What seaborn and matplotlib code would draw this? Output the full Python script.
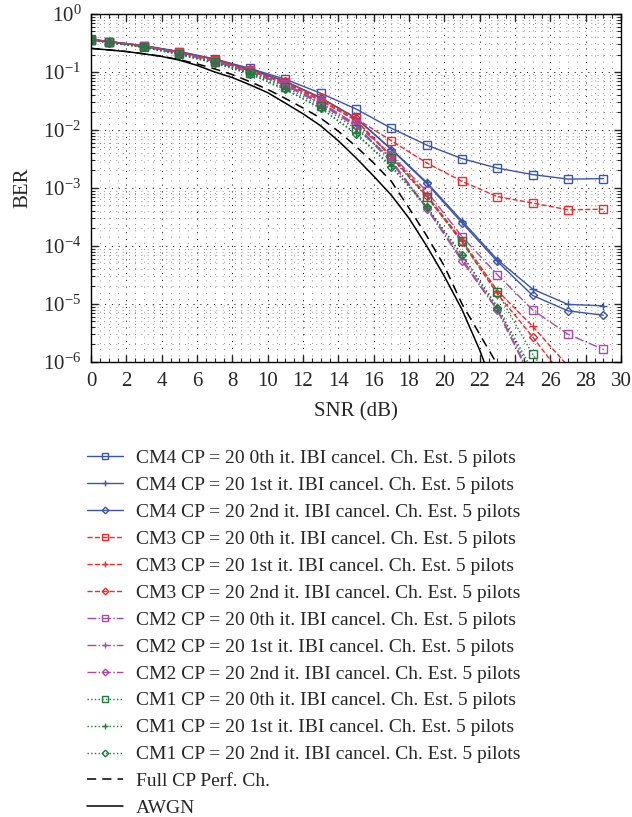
import numpy as np
import pandas as pd
import matplotlib
matplotlib.use("Agg")
import matplotlib.pyplot as plt
from matplotlib.ticker import MultipleLocator, LogLocator
import seaborn as sns

# SNR points of the marked curves (line starts at 0 dB, markers at odd dB)
snr = [0, 1, 3, 5, 7, 9, 11, 13, 15, 17, 19, 21, 23, 25, 27, 29]
# reference curves are smooth, one value per dB
snr_ref = list(range(0, 24))

cm4_0 = [0.365, 0.335, 0.285, 0.225, 0.168, 0.115, 0.075, 0.043, 0.023, 0.0107, 0.0055, 0.0032, 0.0022, 0.0017, 0.00142, 0.00145]
cm4_1 = [0.365, 0.335, 0.282, 0.222, 0.165, 0.111, 0.069, 0.036, 0.016, 0.0047, 0.00125, 2.7e-4, 5.8e-5, 1.8e-5, 9.8e-6, 9.3e-6]
cm4_2 = [0.365, 0.335, 0.282, 0.222, 0.165, 0.111, 0.069, 0.036, 0.016, 0.0046, 0.0012, 2.5e-4, 5.4e-5, 1.4e-5, 7.6e-6, 6.4e-6]
cm3_0 = [0.36, 0.335, 0.28, 0.22, 0.163, 0.108, 0.068, 0.035, 0.0158, 0.0065, 0.0027, 0.0013, 7.1e-4, 5.5e-4, 4.2e-4, 4.3e-4]
cm3_1 = [0.36, 0.333, 0.278, 0.217, 0.159, 0.105, 0.065, 0.033, 0.0148, 0.0036, 7.6e-4, 1.25e-4, 1.7e-5, 4.1e-6, 8.5e-7]
cm3_2 = [0.36, 0.333, 0.278, 0.217, 0.158, 0.104, 0.064, 0.032, 0.0145, 0.0034, 7.2e-4, 1.15e-4, 1.5e-5, 2.7e-6, 4.3e-7]
cm2_0 = [0.355, 0.33, 0.275, 0.213, 0.155, 0.102, 0.062, 0.030, 0.0125, 0.0037, 8.8e-4, 1.45e-4, 3.2e-5, 7.9e-6, 3.0e-6, 1.65e-6]
cm2_1 = [0.355, 0.33, 0.273, 0.21, 0.152, 0.1, 0.06, 0.029, 0.012, 0.003, 4.6e-4, 6e-5, 8e-6, 5e-7]
cm2_2 = [0.355, 0.33, 0.273, 0.21, 0.151, 0.099, 0.059, 0.028, 0.0115, 0.0028, 4.4e-4, 5.5e-5, 7.8e-6, 4.5e-7]
cm1_0 = [0.35, 0.325, 0.27, 0.205, 0.148, 0.097, 0.055, 0.026, 0.0105, 0.0033, 7e-4, 1.2e-4, 1.6e-5, 1.35e-6, 2e-7]
cm1_1 = [0.35, 0.32, 0.265, 0.2, 0.143, 0.093, 0.05, 0.024, 0.0088, 0.0024, 4.8e-4, 7e-5, 9e-6, 7e-7]
cm1_2 = [0.35, 0.32, 0.265, 0.2, 0.142, 0.092, 0.05, 0.0235, 0.0085, 0.0023, 4.7e-4, 7e-5, 8.5e-6, 6e-7]

full_cp = [0.255, 0.24, 0.225, 0.205, 0.187, 0.163, 0.138, 0.113, 0.09, 0.068, 0.05, 0.035,
           0.024, 0.016, 0.0095, 0.0052, 0.0027, 0.0013, 4.5e-4, 1.5e-4, 4.5e-5, 1e-5, 3e-6, 9e-7]
awgn = [0.255, 0.24, 0.225, 0.205, 0.185, 0.16, 0.13, 0.1, 0.08, 0.06, 0.044, 0.029,
        0.019, 0.0118, 0.0065, 0.0033, 0.0016, 7.5e-4, 3e-4, 1e-4, 3e-5, 8e-6, 1.6e-6, 2.5e-7]

labels = [
    "CM4 CP = 20 0th it. IBI cancel. Ch. Est. 5 pilots",
    "CM4 CP = 20 1st it. IBI cancel. Ch. Est. 5 pilots",
    "CM4 CP = 20 2nd it. IBI cancel. Ch. Est. 5 pilots",
    "CM3 CP = 20 0th it. IBI cancel. Ch. Est. 5 pilots",
    "CM3 CP = 20 1st it. IBI cancel. Ch. Est. 5 pilots",
    "CM3 CP = 20 2nd it. IBI cancel. Ch. Est. 5 pilots",
    "CM2 CP = 20 0th it. IBI cancel. Ch. Est. 5 pilots",
    "CM2 CP = 20 1st it. IBI cancel. Ch. Est. 5 pilots",
    "CM2 CP = 20 2nd it. IBI cancel. Ch. Est. 5 pilots",
    "CM1 CP = 20 0th it. IBI cancel. Ch. Est. 5 pilots",
    "CM1 CP = 20 1st it. IBI cancel. Ch. Est. 5 pilots",
    "CM1 CP = 20 2nd it. IBI cancel. Ch. Est. 5 pilots",
    "Full CP Perf. Ch.",
    "AWGN",
]

sns.set_style("ticks")
plt.rcParams["font.family"] = ["Liberation Serif", "DejaVu Serif"]
plt.rcParams["mathtext.fontset"] = "stix"
plt.rcParams["xtick.direction"] = "in"
plt.rcParams["ytick.direction"] = "in"

fig = plt.figure(figsize=(6.32, 8.17), dpi=100)
ax = fig.add_axes([0.144, 0.557, 0.8386, 0.4259])

blue, red, mag, green = "#3b55a8", "#ee2b2b", "#a94aa9", "#1f7a3c"
styles = [
    (cm4_0, blue, "-", "s", 5.5), (cm4_1, blue, "-", "+", 6), (cm4_2, blue, "-", "D", 4.5),
    (cm3_0, red, "--", "s", 5.5), (cm3_1, red, "--", "+", 6), (cm3_2, red, "--", "D", 4.5),
    (cm2_0, mag, "-.", "s", 5.5), (cm2_1, mag, "-.", "+", 6), (cm2_2, mag, "-.", "D", 4.5),
    (cm1_0, green, ":", "s", 5.5), (cm1_1, green, ":", "+", 6), (cm1_2, green, ":", "D", 4.5),
]

for (vals, col, ls, mk, ms), lab in zip(styles, labels[:12]):
    df = pd.DataFrame({"snr": snr[:len(vals)], "ber": vals})
    sns.lineplot(data=df, x="snr", y="ber", ax=ax, color=col, linestyle=ls,
                 linewidth=1.0, marker=mk, markersize=ms, markevery=slice(1, None),
                 markerfacecolor="none", markeredgecolor=col, markeredgewidth=1.0,
                 errorbar=None, label=lab)

sns.lineplot(x=snr_ref, y=full_cp, ax=ax, color="black", linestyle=(0, (6, 4)),
             linewidth=1.1, errorbar=None, label=labels[12])
sns.lineplot(x=snr_ref, y=awgn, ax=ax, color="black", linestyle="-",
             linewidth=1.1, errorbar=None, label=labels[13])

ax.set_yscale("log")
ax.set_xlim(0, 30)
ax.set_ylim(1e-6, 1)
ax.xaxis.set_major_locator(MultipleLocator(2))
ax.xaxis.set_minor_locator(MultipleLocator(0.5))
ax.yaxis.set_major_locator(LogLocator(base=10, numticks=10))
ax.yaxis.set_minor_locator(LogLocator(base=10, subs=np.arange(2, 10), numticks=20))
ax.grid(True, which="major", color="black", linestyle=(0, (1, 6)), linewidth=0.7)
ax.grid(True, which="minor", color="#333333", linestyle=(0, (1, 8)), linewidth=0.5)
ax.tick_params(which="both", top=True, right=True, labelsize=15)
ax.tick_params(which="major", length=5, width=1, pad=7)
ax.tick_params(which="minor", length=3, width=0.8)
for s in ax.spines.values():
    s.set_linewidth(1.0)
    s.set_color("black")

ax.set_xlabel("SNR (dB)", fontsize=15, labelpad=8)
ax.set_ylabel("BER", fontsize=15, labelpad=8)

handles, labs = ax.get_legend_handles_labels()
if ax.get_legend():
    ax.get_legend().remove()
for h in handles:
    h.set_markevery(None)
fig.legend(handles, labs, loc="upper left", bbox_to_anchor=(0.138, 0.45),
           frameon=False, fontsize=14, handlelength=1.85, handletextpad=0.65,
           labelspacing=0.48, borderpad=0, borderaxespad=0, markerscale=0.75)

fig.savefig("out.png", dpi=100)
